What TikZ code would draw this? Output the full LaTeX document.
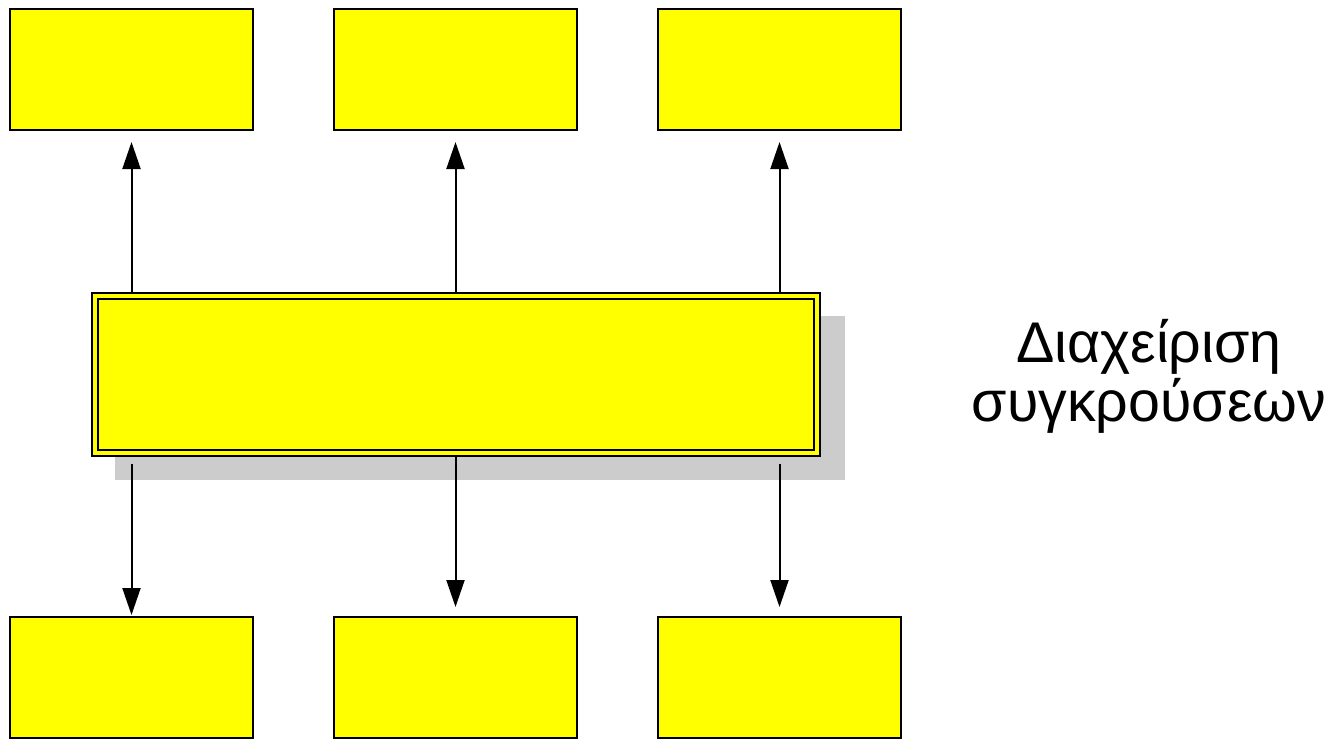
\documentclass[tikz,border=0pt]{standalone}
\usepackage{fontspec}
\newfontfamily\grfont{Liberation Sans}
\usetikzlibrary{arrows.meta}
\definecolor{boxyellow}{RGB}{255,255,0}
\definecolor{shadowgray}{RGB}{204,204,204}
\tikzset{
  smallbox/.style={draw=black, line width=1.5pt, fill=boxyellow, minimum width=243*0.75pt, minimum height=121*0.75pt, inner sep=0pt, outer sep=0pt},
  bigbox/.style={draw=black, line width=1.5pt, double=boxyellow, double distance=3pt, fill=boxyellow, minimum width=722*0.75pt, minimum height=157*0.75pt, inner sep=0pt, outer sep=0pt},
  conn/.style={draw=black, line width=1.5pt, -{Triangle[length=27*0.75pt, width=18*0.75pt]}},
  label/.style={font=\grfont\fontsize{43pt}{44pt}\selectfont, align=center, inner sep=0pt}
}
\begin{document}
\begin{tikzpicture}[x=0.75pt, y=-0.75pt]
\useasboundingbox (0,0) rectangle (1330,740);
% shadow of the central box
\fill[shadowgray] (115,316) rectangle (845,480);
% central box
\node[bigbox] (c) at (455.5,374) {};
% top boxes
\node[smallbox] (t1) at (131.5,69.5) {};
\node[smallbox] (t2) at (455.5,69.5) {};
\node[smallbox] (t3) at (779.5,69.5) {};
% bottom boxes
\node[smallbox] (b1) at (131.5,677.5) {};
\node[smallbox] (b2) at (455.5,677.5) {};
\node[smallbox] (b3) at (779.5,677.5) {};
% upward connectors
\draw[conn, shorten <=3*0.75pt, shorten >=12*0.75pt] (c.north -| t1.south) -- (t1.south);
\draw[conn, shorten <=3*0.75pt, shorten >=12*0.75pt] (c.north -| t2.south) -- (t2.south);
\draw[conn, shorten <=3*0.75pt, shorten >=12*0.75pt] (c.north -| t3.south) -- (t3.south);
% downward connectors
\draw[conn, shorten <=11*0.75pt, shorten >=2*0.75pt] (c.south -| b1.north) -- (b1.north);
\draw[conn, shorten <=3*0.75pt, shorten >=10*0.75pt] (c.south -| b2.north) -- (b2.north);
\draw[conn, shorten <=11*0.75pt, shorten >=10*0.75pt] (c.south -| b3.north) -- (b3.north);
% label
\node[label, anchor=base] (lbl) at (1149,421) {Διαχείριση\\συγκρούσεων};
\end{tikzpicture}
\end{document}
